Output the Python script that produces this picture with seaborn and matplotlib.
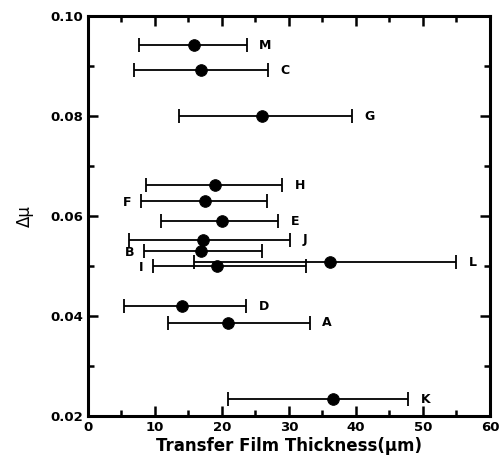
import matplotlib
matplotlib.use("Agg")
import matplotlib.pyplot as plt
import seaborn as sns
import pandas as pd
from matplotlib.ticker import MultipleLocator

# samples, film thickness (um) with min/max spread, and delta mu
labels = ["M", "C", "G", "H", "F", "E", "J", "B", "L", "I", "D", "A", "K"]
thickness = [15.8, 16.9, 25.9, 18.9, 17.4, 20.0, 17.2, 16.8, 36.1, 19.3, 14.0, 20.9, 36.5]
thick_low = [7.6, 6.9, 13.6, 8.6, 7.9, 10.9, 6.1, 8.3, 15.8, 9.7, 5.3, 11.9, 20.9]
thick_high = [23.7, 26.8, 39.4, 29.0, 26.7, 28.4, 30.1, 25.9, 55.0, 32.5, 23.6, 33.1, 47.8]
delta_mu = [0.0941, 0.0891, 0.0799, 0.0661, 0.0630, 0.0589, 0.0552, 0.0530, 0.0507, 0.0500, 0.0420, 0.0387, 0.0234]
label_side = ["right", "right", "right", "right", "left", "right", "right", "left", "right", "left", "right", "right", "right"]

df = pd.DataFrame({"label": labels, "x": thickness, "lo": thick_low,
                   "hi": thick_high, "y": delta_mu, "side": label_side})

sns.set_style("ticks")
plt.rcParams["font.family"] = ["DejaVu Sans"]
plt.rcParams.update({"text.color": "black", "axes.labelcolor": "black",
                     "xtick.color": "black", "ytick.color": "black",
                     "axes.edgecolor": "black"})

fig = plt.figure(figsize=(5.04, 4.69), dpi=100)
ax = fig.add_axes([0.1746, 0.113, 0.7976, 0.8529])

ax.errorbar(df["x"], df["y"], xerr=[df["x"] - df["lo"], df["hi"] - df["x"]],
            fmt="none", ecolor="black", elinewidth=1.3, capsize=5, capthick=1.3)
sns.scatterplot(data=df, x="x", y="y", ax=ax, color="black", s=70,
                edgecolor="black", zorder=3, legend=False)

for _, r in df.iterrows():
    if r["side"] == "right":
        ax.annotate(r["label"], (r["hi"], r["y"]), xytext=(9, 0), textcoords="offset points",
                    ha="left", va="center", fontsize=9, fontweight="bold")
    else:
        ax.annotate(r["label"], (r["lo"], r["y"]), xytext=(-7, -1), textcoords="offset points",
                    ha="right", va="center", fontsize=9, fontweight="bold")

ax.set_xlim(0, 60)
ax.set_ylim(0.02, 0.10)
ax.xaxis.set_major_locator(MultipleLocator(10))
ax.xaxis.set_minor_locator(MultipleLocator(5))
ax.yaxis.set_major_locator(MultipleLocator(0.02))
ax.yaxis.set_minor_locator(MultipleLocator(0.01))
ax.yaxis.set_major_formatter(plt.FormatStrFormatter("%.2f"))
ax.tick_params(which="both", direction="in", top=True, right=True, width=1.8, colors="black")
ax.tick_params(which="major", length=7, labelsize=9.5)
ax.tick_params(which="minor", length=4)
for t in ax.get_xticklabels() + ax.get_yticklabels():
    t.set_fontweight("bold")
for sp in ax.spines.values():
    sp.set_linewidth(2.2)
    sp.set_visible(True)
    sp.set_color("black")

ax.set_xlabel("Transfer Film Thickness(μm)", fontsize=12, fontweight="bold", labelpad=2)
ax.set_ylabel("Δμ", fontsize=12, labelpad=12)

fig.savefig("out.png", dpi=100)
